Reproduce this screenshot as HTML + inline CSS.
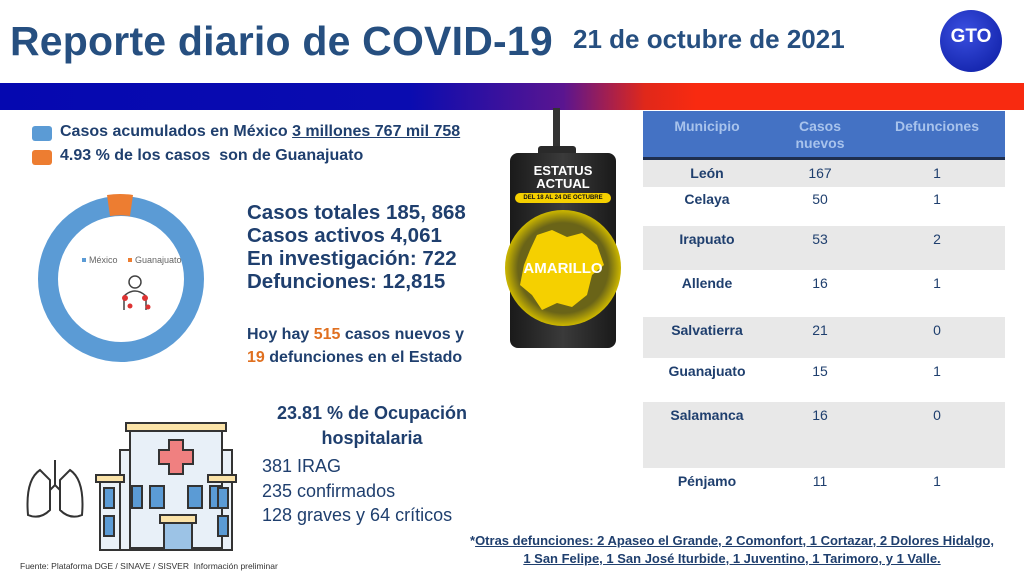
<!DOCTYPE html>
<html><head><meta charset="utf-8"><style>
*{margin:0;padding:0;box-sizing:border-box}
body{width:1024px;height:576px;position:relative;overflow:hidden;background:#fff;font-family:"Liberation Sans","DejaVu Sans",sans-serif;color:#1f3f6e}
.a{position:absolute;white-space:nowrap}
.b{font-weight:bold}
table{border-collapse:collapse}
td{text-align:center;font-size:14px;vertical-align:top;padding-top:5px}
</style></head><body>
<div class="a b" style="left:10px;top:18px;font-size:41px;color:#264f80;letter-spacing:0.2px">Reporte diario de COVID-19</div>
<div class="a b" style="left:573px;top:24px;font-size:26px;color:#264f80">21 de octubre de 2021</div>
<div class="a" style="left:940px;top:10px;width:62px;height:62px;border-radius:50%;background:radial-gradient(circle at 40% 35%,#3a4fe0,#0a1aa0);color:#fff;font-weight:bold;font-size:19px;text-align:center;line-height:54px">GTO</div>
<div class="a" style="left:0;top:83px;width:1024px;height:27px;background:linear-gradient(90deg,#0508b0 0%,#0a0cb0 40%,#5a1590 55%,#e0281a 63%,#f82a10 68%,#f82a10 100%)"></div>

<div class="a" style="left:32px;top:126px;width:20px;height:15px;background:#5b9bd5;border-radius:3px"></div>
<div class="a b" style="left:60px;top:123px;font-size:16px">Casos acumulados en México <u>3 millones 767 mil 758</u></div>
<div class="a" style="left:32px;top:150px;width:20px;height:15px;background:#ed7d31;border-radius:3px"></div>
<div class="a b" style="left:60px;top:147px;font-size:16px">4.93 % de los casos &nbsp;son de Guanajuato</div>

<svg class="a" style="left:0;top:180px" width="250" height="200">
<circle cx="121" cy="99" r="73" fill="none" stroke="#5b9bd5" stroke-width="20"/>
<path d="M107 15 A84 84 0 0 1 133 15 L130 36 A63 63 0 0 0 110 36Z" fill="#ed7d31"/>
<rect x="82" y="78" width="4" height="4" fill="#5b9bd5"/><text x="89" y="83" font-size="9" fill="#666" font-family="Liberation Sans">México</text>
<rect x="128" y="78" width="4" height="4" fill="#ed7d31"/><text x="135" y="83" font-size="9" fill="#666" font-family="Liberation Sans">Guanajuato</text>
<circle cx="135" cy="102" r="6" fill="none" stroke="#444" stroke-width="1.5"/>
<path d="M124 130 V116 Q135 106 146 116 V130" fill="none" stroke="#444" stroke-width="1.5"/>
<circle cx="125" cy="118" r="3" fill="#d33"/><circle cx="145" cy="118" r="3" fill="#d33"/><circle cx="130" cy="126" r="2.5" fill="#d33"/><circle cx="148" cy="127" r="2.5" fill="#d33"/>
</svg>

<div class="a b" style="left:247px;top:201px;font-size:20.5px;line-height:23px">Casos totales 185, 868<br>Casos activos 4,061<br>En investigación: 722<br>Defunciones: 12,815</div>
<div class="a b" style="left:247px;top:323px;font-size:16px;line-height:23px">Hoy hay <span style="color:#e07020">515</span> casos nuevos y<br><span style="color:#e07020">19</span> defunciones en el Estado</div>

<div class="a b" style="left:262px;top:401px;width:220px;text-align:center;font-size:18px;line-height:25px">23.81 % de Ocupación<br>hospitalaria</div>
<div class="a" style="left:262px;top:454px;font-size:18px;line-height:24.5px">381 IRAG<br>235 confirmados<br>128 graves y 64 críticos</div>

<svg class="a" style="left:20px;top:420px" width="220" height="135">
<g fill="none" stroke="#333" stroke-width="2">
<path d="M20 50 Q5 60 8 95 Q20 100 30 90 L30 60 Z M50 50 Q65 60 62 95 Q50 100 40 90 L40 60Z M35 40 V65 M30 70 L35 65 L40 70"/>
<rect x="100" y="30" width="112" height="100" fill="#eaf1f8"/>
<rect x="80" y="60" width="20" height="70" fill="#eaf1f8"/><rect x="192" y="60" width="20" height="70" fill="#eaf1f8"/>
<rect x="110" y="8" width="92" height="120" fill="#e8f0f8"/>
<rect x="106" y="3" width="100" height="8" fill="#fbe3a8"/>
<rect x="76" y="55" width="28" height="7" fill="#fbe3a8"/><rect x="188" y="55" width="28" height="7" fill="#fbe3a8"/>
<path d="M149 20 h14 v10 h10 v14 h-10 v10 h-14 v-10 h-10 v-14 h10z" fill="#f08080"/>
<rect x="130" y="66" width="14" height="22" fill="#5b9bd5"/><rect x="168" y="66" width="14" height="22" fill="#5b9bd5"/>
<rect x="112" y="66" width="10" height="22" fill="#5b9bd5"/><rect x="190" y="66" width="10" height="22" fill="#5b9bd5"/>
<rect x="84" y="68" width="10" height="20" fill="#5b9bd5"/><rect x="198" y="68" width="10" height="20" fill="#5b9bd5"/>
<rect x="84" y="96" width="10" height="20" fill="#5b9bd5"/><rect x="198" y="96" width="10" height="20" fill="#5b9bd5"/>
<rect x="140" y="95" width="36" height="8" fill="#fbe3a8"/>
<rect x="144" y="103" width="28" height="27" fill="#9cc3e6"/>
</g></svg>

<div class="a" style="left:20px;top:561px;font-size:8.5px;color:#333">Fuente: Plataforma DGE / SINAVE / SISVER &nbsp;Información preliminar</div>

<div class="a" style="left:553px;top:108px;width:7px;height:42px;background:#333"></div>
<div class="a" style="left:538px;top:146px;width:38px;height:10px;background:#2a2a2a;border-radius:3px"></div>
<div class="a" style="left:510px;top:153px;width:106px;height:195px;background:linear-gradient(90deg,#1a1a1a,#3a3a3a,#1a1a1a);border-radius:8px"></div>
<div class="a b" style="left:510px;top:164px;width:106px;text-align:center;color:#fff;font-size:13px;line-height:13px">ESTATUS<br>ACTUAL</div>
<div class="a b" style="left:515px;top:193px;width:96px;height:10px;background:#f5d000;border-radius:5px;font-size:6px;line-height:10px;text-align:center;color:#111">DEL 18 AL 24 DE OCTUBRE</div>
<div class="a" style="left:505px;top:210px;width:116px;height:116px;border-radius:50%;background:radial-gradient(circle,#6a6418 55%,#c9b400 70%,#3a3510 100%)"></div>
<svg class="a" style="left:512px;top:225px" width="100" height="90"><path d="M25 10 L40 5 L55 12 L70 8 L85 20 L92 40 L80 50 L75 70 L60 82 L45 78 L30 85 L20 70 L8 60 L12 40 L18 25Z" fill="#f5d000"/></svg>
<div class="a b" style="left:505px;top:260px;width:116px;text-align:center;color:#fff;font-size:15px">AMARILLO</div>

<table class="a" style="left:643px;top:111px;width:362px">
<tr style="background:#4472c4;height:47px;border-bottom:3px solid #1f2f4f"><td class="b" style="color:#a8c3ec;width:128px;padding-top:7px">Municipio</td><td class="b" style="color:#a8c3ec;width:98px;padding-top:7px;line-height:17px">Casos<br>nuevos</td><td class="b" style="color:#a8c3ec;padding-top:7px">Defunciones</td></tr>
<tr style="background:#e8e8e8;height:29px"><td class="b">León</td><td>167</td><td>1</td></tr>
<tr style="background:#fff;height:39px"><td class="b" style="padding-top:4px">Celaya</td><td style="padding-top:4px">50</td><td style="padding-top:4px">1</td></tr>
<tr style="background:#e8e8e8;height:44px"><td class="b">Irapuato</td><td>53</td><td>2</td></tr>
<tr style="background:#fff;height:47px"><td class="b">Allende</td><td>16</td><td>1</td></tr>
<tr style="background:#e8e8e8;height:41px"><td class="b">Salvatierra</td><td>21</td><td>0</td></tr>
<tr style="background:#fff;height:44px"><td class="b">Guanajuato</td><td>15</td><td>1</td></tr>
<tr style="background:#e8e8e8;height:66px"><td class="b">Salamanca</td><td>16</td><td>0</td></tr>
<tr style="background:#fff;height:37px"><td class="b">Pénjamo</td><td>11</td><td>1</td></tr>
</table>

<div class="a b" style="left:462px;top:532px;width:540px;text-align:center;font-size:13px;line-height:18px;color:#1f3f6e">*<u>Otras defunciones: 2 Apaseo el Grande, 2 Comonfort, 1 Cortazar, 2 Dolores Hidalgo,</u><br><u>1 San Felipe, 1 San José Iturbide, 1 Juventino, 1 Tarimoro, y 1 Valle.</u></div>
</body></html>
